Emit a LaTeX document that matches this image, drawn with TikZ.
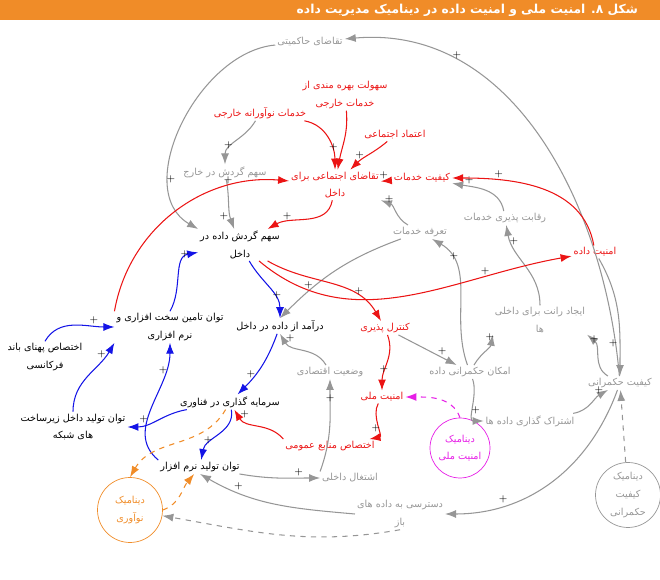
\documentclass[tikz,border=0pt]{standalone}
\usepackage{fontspec}
\newfontfamily\farsi[Script=Arabic]{DejaVu Sans}
\TeXXeTstate=1
\usetikzlibrary{arrows.meta}
\newcommand\fa[1]{\beginR #1\endR}
\definecolor{gr}{RGB}{150,150,150}
\definecolor{rd}{RGB}{235,20,20}
\definecolor{bl}{RGB}{20,20,230}
\definecolor{og}{RGB}{240,140,40}
\definecolor{mg}{RGB}{230,30,230}
\begin{document}
\begin{tikzpicture}
[
x=0.02cm, y=-0.02cm,
var-k/.style={font=\farsi\fontsize{5.5}{10}\selectfont, align=center, text=black, inner sep=1pt},
var-g/.style={var-k, text=gr},
var-r/.style={var-k, text=rd},
dyn/.style={circle, draw, minimum size=12mm, var-k},
lk/.style={-{Latex[length=2.2mm,width=1.6mm]}, semithick},
lk-g/.style={lk, gr},
lk-r/.style={lk, rd},
lk-b/.style={lk, bl},
lk-d/.style={lk, dashed},
sg/.style={font=\tiny, text=black, pos=0.75, above, inner sep=1pt}
]
\useasboundingbox (0,0) rectangle (660,580);
\fill[og] (0,0) rectangle (660,20);
\node (title) [var-k, text=white, font=\farsi\fontsize{7}{8}\selectfont\bfseries, anchor=east] at (640,10) {\fa{شکل ۸. امنیت ملی و امنیت داده در دینامیک مدیریت داده}};
% variables
\node (taq-h)   [var-g] at (310,42)  {\fa{تقاضای حاکمیتی}};
\node (sohulat) [var-r] at (345,95)  {\fa{سهولت بهره مندی از}\\\fa{خدمات خارجی}};
\node (noavar)  [var-r] at (260,113) {\fa{خدمات نوآورانه خارجی}};
\node (etemad)  [var-r] at (395,135) {\fa{اعتماد اجتماعی}};
\node (sahm-kh) [var-g] at (225,172) {\fa{سهم گردش در خارج}};
\node (taq-e)   [var-r] at (335,185) {\fa{تقاضای اجتماعی برای}\\\fa{داخل}};
\node (kef-kh)  [var-r] at (422,178) {\fa{کیفیت خدمات}};
\node (sahm-d)  [var-k] at (240,245) {\fa{سهم گردش داده در}\\\fa{داخل}};
\node (tarefe)  [var-g] at (420,232) {\fa{تعرفه خدمات}};
\node (reqabat) [var-g] at (505,218) {\fa{رقابت پذیری خدمات}};
\node (amn-d)   [var-r] at (595,252) {\fa{امنیت داده}};
\node (rant)    [var-g] at (540,320) {\fa{ایجاد رانت برای داخلی}\\\fa{ها}};
\node (daramad) [var-k] at (280,326) {\fa{درآمد از داده در داخل}};
\node (kontrol) [var-r] at (385,328) {\fa{کنترل پذیری}};
\node (tamin)   [var-k] at (170,327) {\fa{توان تامین سخت افزاری و}\\\fa{نرم افزاری}};
\node (pahna)   [var-k] at (45,357)  {\fa{اختصاص پهنای باند}\\\fa{فرکانسی}};
\node (emkan)   [var-g] at (470,372) {\fa{امکان حکمرانی داده}};
\node (vaz)     [var-g] at (330,372) {\fa{وضعیت اقتصادی}};
\node (kef-h)   [var-g] at (620,383) {\fa{کیفیت حکمرانی}};
\node (amn-m)   [var-r] at (382,397) {\fa{امنیت ملی}};
\node (sarmaye) [var-k] at (230,402) {\fa{سرمایه گذاری در فناوری}};
\node (zirsakht)[var-k] at (73,427)  {\fa{توان تولید داخل زیرساخت}\\\fa{های شبکه}};
\node (eshterak)[var-g] at (530,421) {\fa{اشتراک گذاری داده ها}};
\node (manabe)  [var-r] at (330,446) {\fa{اختصاص منابع عمومی}};
\node (dyn-m)   [dyn, draw=mg, text=mg] at (460,448) {\fa{دینامیک}\\\fa{امنیت ملی}};
\node (narm)    [var-k] at (200,467) {\fa{توان تولید نرم افزار}};
\node (eshteqal)[var-g] at (350,478) {\fa{اشتغال داخلی}};
\node (dyn-h)   [dyn, draw=gr, text=gr, minimum size=13mm] at (628,495) {\fa{دینامیک}\\\fa{کیفیت}\\\fa{حکمرانی}};
\node (dastrasi)[var-g] at (400,514) {\fa{دسترسی به داده های}\\\fa{باز}};
\node (dyn-n)   [dyn, draw=og, text=og, minimum size=13mm] at (130,510) {\fa{دینامیک}\\\fa{نوآوری}};
% gray links
\draw [lk-g] (kef-h) to[out=95, in=5] node[sg]{+} (taq-h);
\draw [lk-g] (taq-h) to[out=185, in=150] node[sg]{+} (sahm-d.north west);
\draw [lk-g] (noavar) to[out=-120, in=90] node[sg]{+} (sahm-kh);
\draw [lk-g] (sahm-kh) to[out=-80, in=110] node[sg, left]{+} (sahm-d);
\draw [lk-g] (tarefe) to[out=150, in=-20] node[sg]{+} (taq-e.south east);
\draw [lk-g] (tarefe) to[out=200, in=45] node[sg]{+} (daramad.north);
\draw [lk-g] (emkan) to[out=110, in=-30] node[sg]{+} (tarefe);
\draw [lk-g] (rant) to[out=90, in=-80] node[sg]{+} (reqabat);
\draw [lk-g] (reqabat) to[out=100, in=-10] node[sg]{+} (kef-kh);
\draw [lk-g] (emkan) to[out=60, in=-100] node[sg]{+} (rant.south west);
\draw [lk-g] (kontrol) -- node[sg]{+} (emkan);
\draw [lk-g] (emkan) to[out=-70, in=180] node[sg]{+} (eshterak);
\draw [lk-g] (eshterak) to[out=10, in=-150] node[sg]{+} (kef-h);
\draw [lk-g] (kef-h) to[out=150, in=-40] node[sg]{+} (rant.south east);
\draw [lk-g] (amn-d) to[out=-60, in=90] node[sg, left]{+} (kef-h);
\draw [lk-g] (kef-h) to[out=-110, in=0] node[sg]{+} (dastrasi);
\draw [lk-g, lk-d] (dyn-h) -- (kef-h);
\draw [lk-g] (narm) to[out=-10, in=180] node[sg]{+} (eshteqal);
\draw [lk-g] (dastrasi.west) to[out=175, in=-30] node[sg]{+} (narm.south);
\draw [lk-g, lk-d] (dastrasi.south) to[out=-170, in=-10] (dyn-n);
\draw [lk-g] (eshteqal.north west) to[out=70, in=-90] node[sg]{+} (vaz);
\draw [lk-g] (vaz) to[out=120, in=-60] node[sg]{+} (daramad.south);
% red links
\draw [lk-r] (sohulat) to[out=-85, in=80] (taq-e);
\draw [lk-r] (noavar) to[out=-10, in=90] node[sg]{+} (taq-e);
\draw [lk-r] (etemad) to[out=-140, in=45] node[sg]{+} (taq-e);
\draw [lk-r] (kef-kh) -- node[sg]{+} (taq-e);
\draw [lk-r] (amn-d) to[out=100, in=0] node[sg]{+} (kef-kh);
\draw [lk-r] (taq-e) to[out=-100, in=30] node[sg]{+} (sahm-d);
\draw [lk-r] (tamin.north west) to[out=80, in=175] node[sg]{+} (taq-e);
\draw [lk-r] (sahm-d) to[out=-30, in=120] node[sg]{+} (kontrol);
\draw [lk-r] (sahm-d) to[out=-40, in=190] node[sg]{+} (amn-d);
\draw [lk-r] (kontrol) to[out=-70, in=90] node[sg]{+} (amn-m);
\draw [lk-r] (amn-m) to[out=-120, in=10] node[sg]{+} (manabe);
\draw [lk-r] (manabe.north west) to[out=130, in=-60] node[sg]{+} (sarmaye);
% blue links
\draw [lk-b] (tamin.north) to[out=60, in=190] node[sg]{+} (sahm-d);
\draw [lk-b] (sahm-d) to[out=-60, in=90] node[sg]{+} (daramad.north);
\draw [lk-b] (daramad) to[out=-110, in=45] node[sg]{+} (sarmaye);
\draw [lk-b] (sarmaye) to[out=190, in=0] node[sg]{+} (zirsakht);
\draw [lk-b] (sarmaye) to[out=-80, in=80] node[sg]{+} (narm);
\draw [lk-b] (narm.north west) to[out=140, in=-90] node[sg]{+} (tamin.south);
\draw [lk-b] (zirsakht.north) to[out=90, in=-120] node[sg]{+} (tamin.south west);
\draw [lk-b] (pahna.north) to[out=60, in=180] node[sg]{+} (tamin.west);
% dashed dynamics
\draw [lk-d, og] (sarmaye) to[out=-120, in=60] (dyn-n.north);
\draw [lk-d, og] (dyn-n.east) to[out=20, in=-130] (narm);
\draw [lk-d, mg] (dyn-m.north) to[out=110, in=0] (amn-m);
\end{tikzpicture}
\end{document}
